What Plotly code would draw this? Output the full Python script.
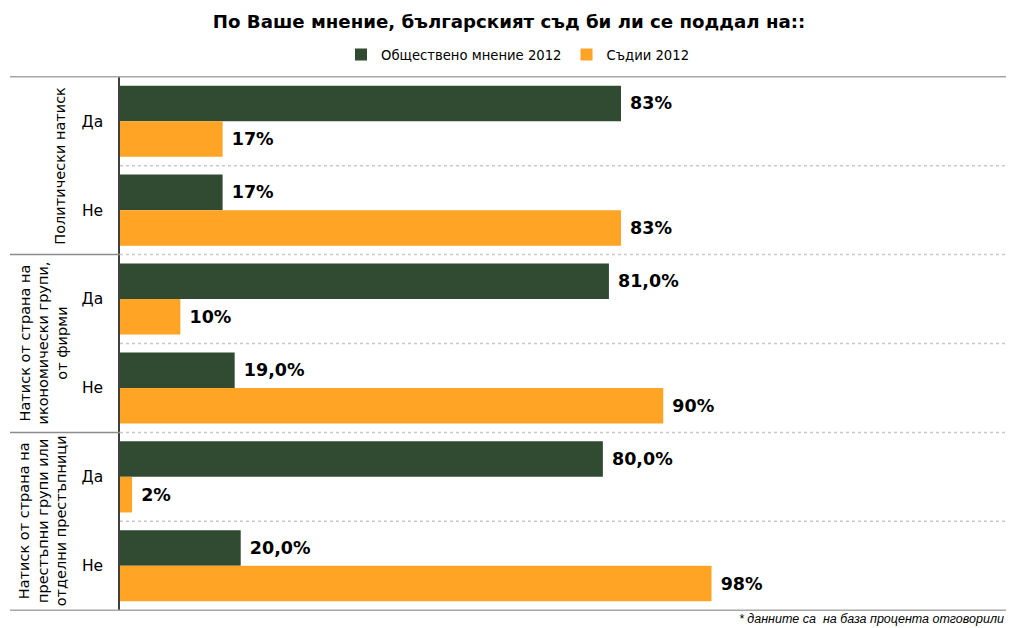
import plotly.graph_objects as go

groups = ["Политически натиск",
          "Натиск от страна на<br>икономически групи,<br>от фирми",
          "Натиск от страна на<br>престъпни групи или<br>отделни престъпници"]
answers = ["Да", "Не", "Да", "Не", "Да", "Не"]
group_of_row = [0, 0, 1, 1, 2, 2]
categories = [f"g{g}|{a}" for g, a in zip(group_of_row, answers)]

public_2012 = [83, 17, 81, 19, 80, 20]
public_labels = ["83%", "17%", "81,0%", "19,0%", "80,0%", "20,0%"]
judges_2012 = [17, 83, 10, 90, 2, 98]
judges_labels = ["17%", "83%", "10%", "90%", "2%", "98%"]

series_names = ["Обществено мнение 2012", "Съдии 2012"]
colors = ["#314B32", "#FFA424"]

fig = go.Figure()
for name, vals, labs, col in [(series_names[0], public_2012, public_labels, colors[0]),
                              (series_names[1], judges_2012, judges_labels, colors[1])]:
    fig.add_trace(go.Bar(
        y=categories, x=vals, orientation="h", name=name,
        marker=dict(color=col, line=dict(width=0)),
        text=[" " + t for t in labs], textposition="outside",
        textfont=dict(family="DejaVu Sans", size=17.5, color="#000000", weight="bold"),
        cliponaxis=False,
    ))

# page body has an 8px margin; figure coordinates are screen coordinates minus 8
OFF = 8
W, H = 1014 - OFF, 628 - OFF
ml, mr, mt, mb = 120 - OFF, 0, 76 - OFF, 17
pw = W - ml - mr
ph = H - mt - mb

def px_to_paper(x):
    return (x - OFF - ml) / pw

def py_to_paper(y):
    return (H - mb - (y - OFF)) / ph

shapes = []
n = len(categories)
for yb in [-0.5, n - 0.5]:
    shapes.append(dict(type="line", xref="paper", yref="y", x0=px_to_paper(10), x1=1,
                       y0=yb, y1=yb, line=dict(color="#A6A6A6", width=1.5)))
for i in range(1, n):
    yb = i - 0.5
    shapes.append(dict(type="line", xref="paper", yref="y", x0=0, x1=1,
                       y0=yb, y1=yb, line=dict(color="#C8C8C8", width=1.5, dash="dot")))
    if group_of_row[i] != group_of_row[i - 1]:
        shapes.append(dict(type="line", xref="paper", yref="y", x0=px_to_paper(10), x1=0,
                           y0=yb, y1=yb, line=dict(color="#8C8C8C", width=1.5)))

annotations = []
group_x = [60, 43, 43]
for gi, g in enumerate(groups):
    rows = [i for i, r in enumerate(group_of_row) if r == gi]
    yc = (rows[0] + rows[-1]) / 2
    annotations.append(dict(text=g, x=px_to_paper(group_x[gi]), xref="paper", y=yc, yref="y",
                            textangle=-90, showarrow=False, xanchor="center", yanchor="middle",
                            font=dict(family="DejaVu Sans", size=14.5, color="#000000")))
annotations.append(dict(text="<i>* данните са  на база процента отговорили</i>",
                        x=px_to_paper(1006), xref="paper", y=py_to_paper(619), yref="paper",
                        xanchor="right", yanchor="middle", showarrow=False,
                        font=dict(family="Liberation Sans", size=12.5, color="#000000")))

fig.update_layout(
    width=W, height=H,
    margin=dict(l=ml, r=mr, t=mt, b=mb, autoexpand=False),
    paper_bgcolor="white", plot_bgcolor="white",
    barmode="group", bargap=0.2, bargroupgap=0,
    title=dict(text="<b>По Ваше мнение, българският съд би ли се поддал на::</b>",
               x=(509 - OFF) / W, xref="container", xanchor="center",
               y=1 - (22 - OFF) / H, yref="container", yanchor="middle",
               font=dict(family="DejaVu Sans", size=18.2, color="#000000")),
    legend=dict(orientation="h", x=(518 - OFF) / W, xref="container", xanchor="center",
                y=1 - (55 - OFF) / H, yref="container", yanchor="middle",
                font=dict(family="DejaVu Sans", size=13.2, color="#000000"),
                traceorder="normal"),
    xaxis=dict(range=[0, pw / 6.036], showgrid=False, zeroline=False, showticklabels=False,
               ticks="", showline=False, fixedrange=True, automargin=False),
    yaxis=dict(type="category", categoryorder="array", categoryarray=categories,
               autorange="reversed", tickvals=categories, ticktext=answers,
               showgrid=False, zeroline=False, ticks="", ticklabelstandoff=12,
               showline=True, linecolor="#404040", linewidth=1.5, automargin=False,
               tickfont=dict(family="DejaVu Sans", size=15.5, color="#000000")),
    shapes=shapes, annotations=annotations,
    showlegend=True,
)

fig.write_html("out.html")
